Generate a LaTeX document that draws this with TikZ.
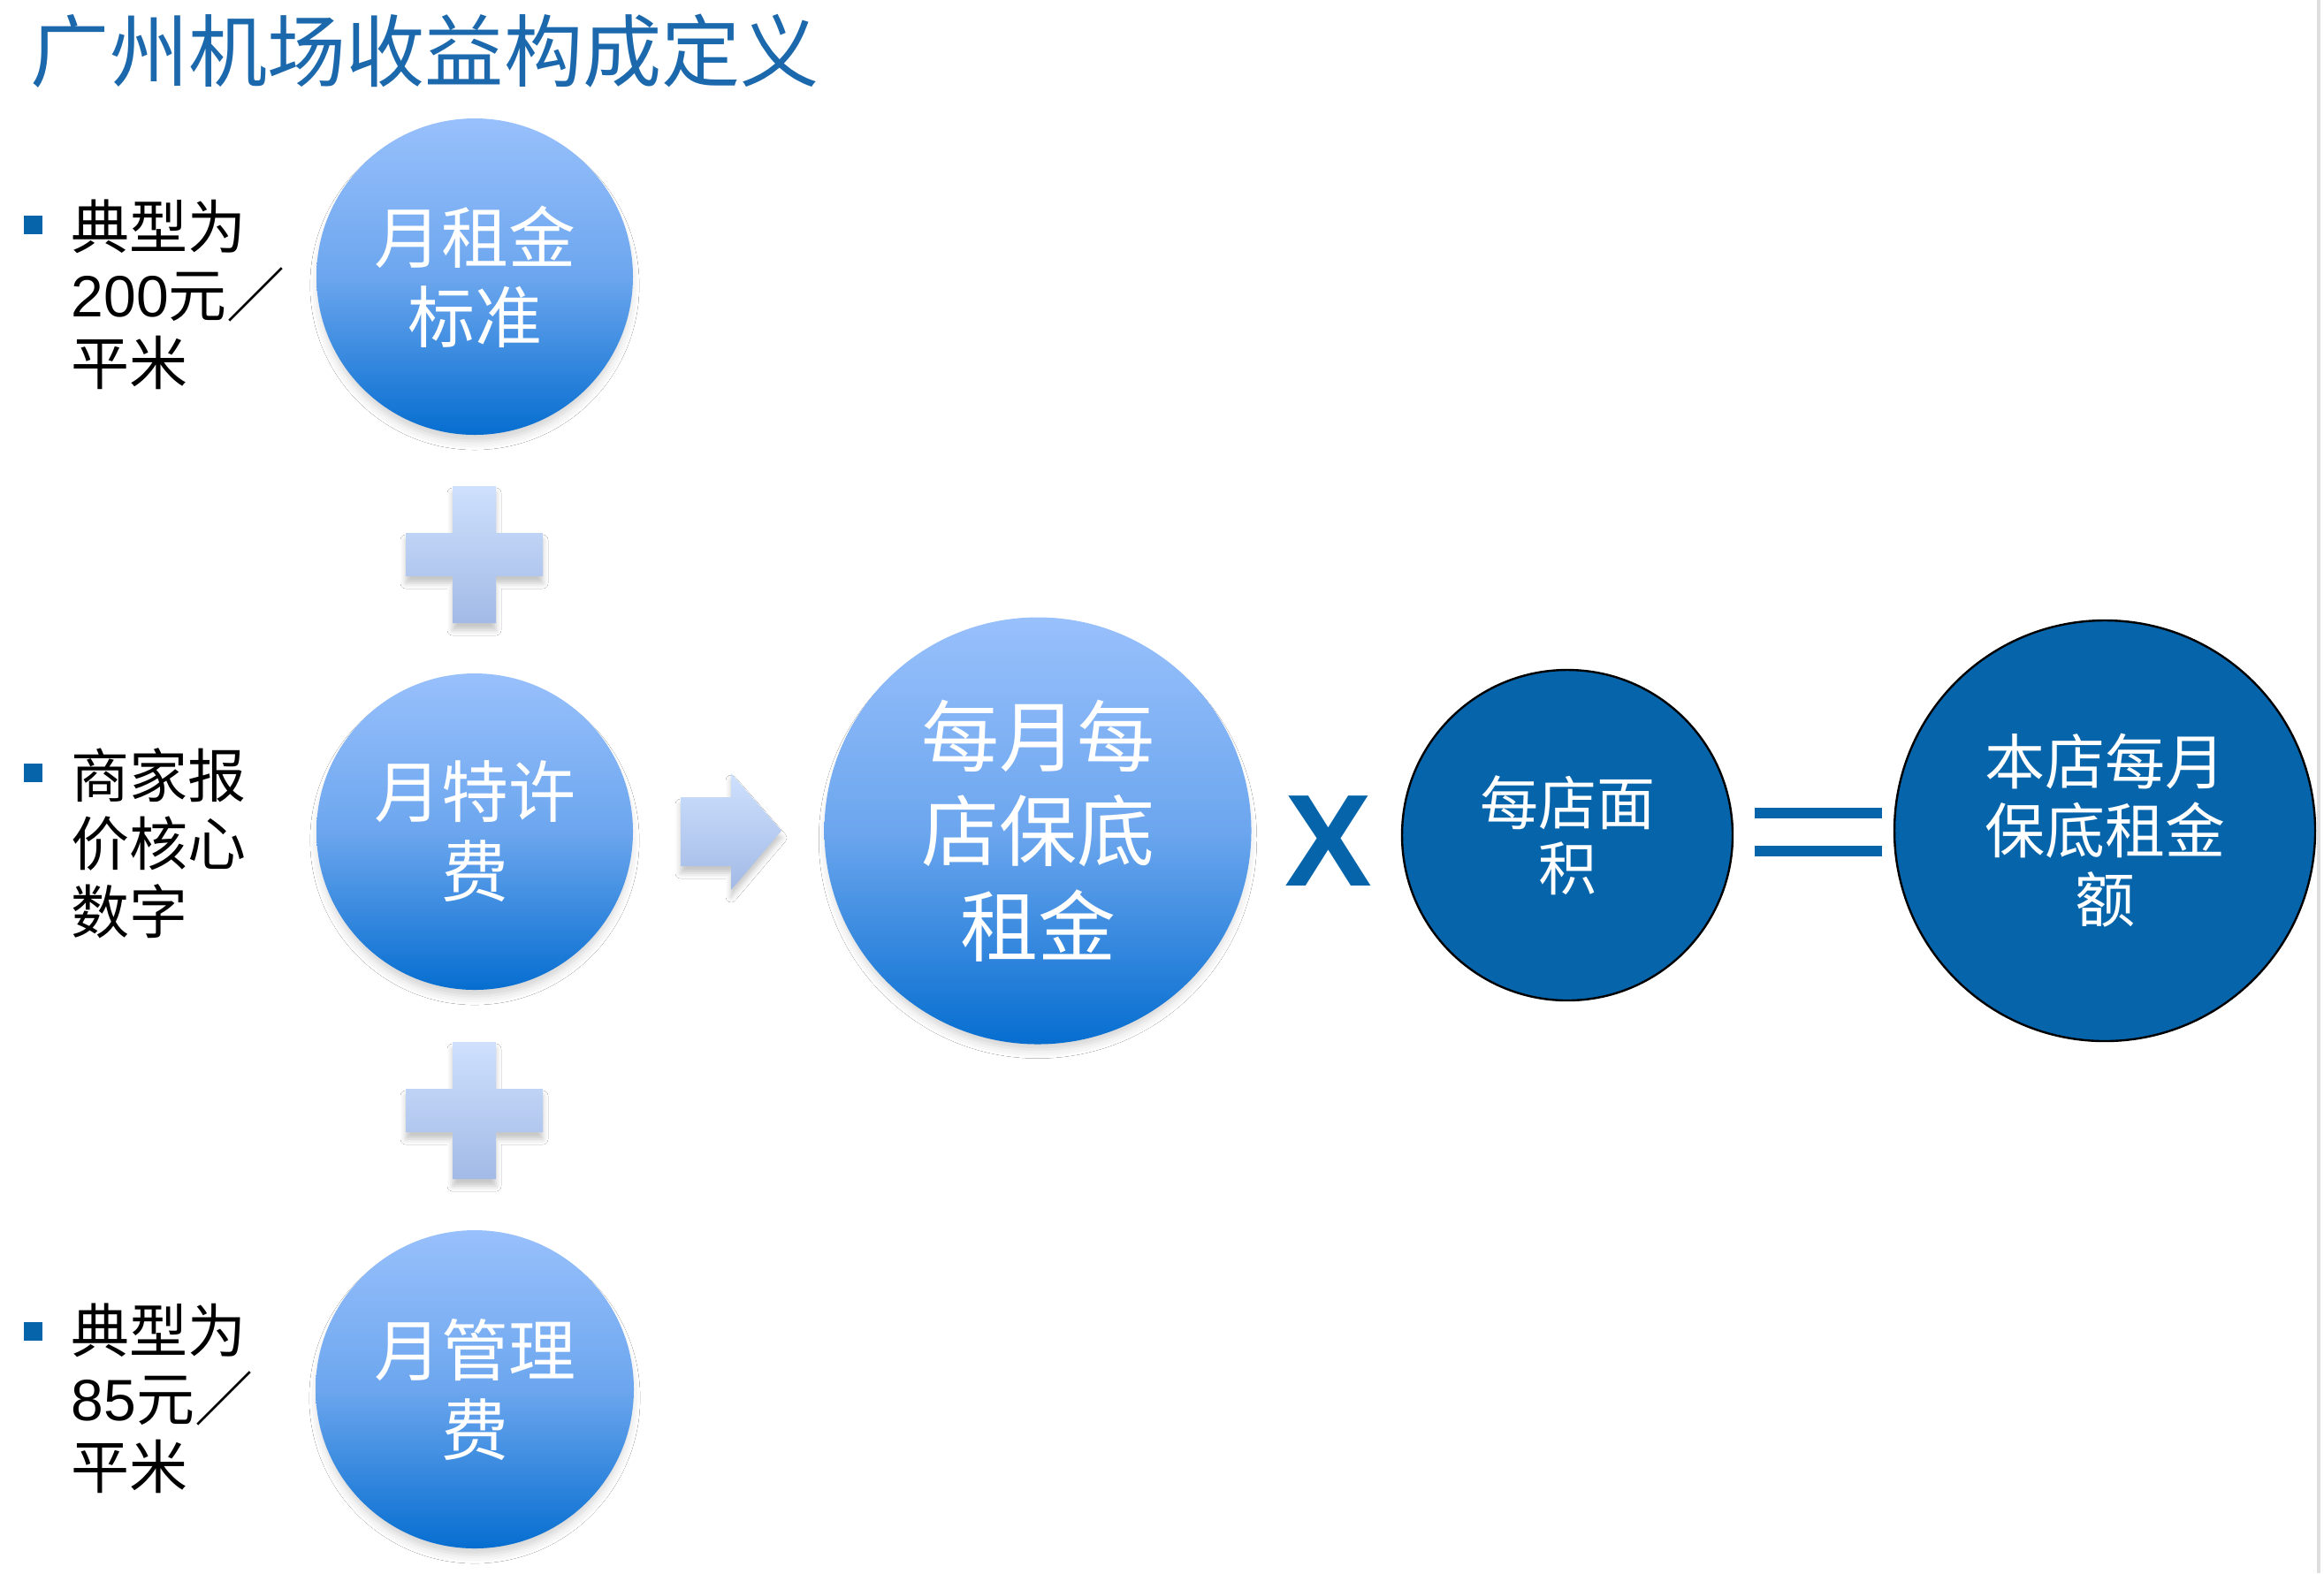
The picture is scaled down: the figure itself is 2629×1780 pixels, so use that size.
\documentclass[tikz,border=0pt]{standalone}
\usepackage{fontspec}
\setmainfont{Noto Sans CJK SC}
\newfontfamily\latinfont{Liberation Sans}
\usetikzlibrary{shadows.blur}
\definecolor{titleblue}{RGB}{28,104,172}
\definecolor{darkblue}{RGB}{6,100,170}
\definecolor{lighttop}{RGB}{152,192,252}
\definecolor{lightmid}{RGB}{108,166,238}
\definecolor{lightbot}{RGB}{6,110,208}
\definecolor{optop}{RGB}{206,224,253}
\definecolor{opbot}{RGB}{162,186,230}
\definecolor{edgegray}{RGB}{222,222,222}
\begin{document}
\begin{tikzpicture}[x=0.25pt,y=-0.25pt,
  lightcirc/.style={circle, inner sep=0pt, top color=lighttop, bottom color=lightbot, middle color=lightmid, text=white, align=center,
    blur shadow={shadow xshift=0pt, shadow yshift=-2.5pt, shadow opacity=18, shadow blur radius=2.5pt, shadow scale=0.985}},
  darkcirc/.style={circle, inner sep=0pt, fill=darkblue, draw=black, line width=0.6pt, text=white, align=center},
  opshape/.style={top color=optop, bottom color=opbot, draw=none,
    blur shadow={shadow xshift=0pt, shadow yshift=-2pt, shadow opacity=22, shadow blur radius=1.5pt}},
  sidetext/.style={anchor=west, align=left, inner sep=0pt, text=black, font=\fontsize{16.5pt}{19.25pt}\selectfont},
  bulletsq/.style={fill=darkblue, minimum size=5.25pt, inner sep=0pt},
  fsmall/.style={font=\fontsize{19pt}{22.5pt}\selectfont},
  fbig/.style={font=\fontsize{22pt}{26.8pt}\selectfont},
  fdark/.style={font=\fontsize{16.5pt}{18.5pt}\selectfont}
]
\useasboundingbox (0,0) rectangle (2629,1780);
\fill[white] (0,0) rectangle (2629,1780);
\draw[edgegray, line width=0.8pt] (2623,0) -- (2623,1780);

% title
\node[anchor=west, inner sep=0pt, text=titleblue, font=\fontsize{22.3pt}{26pt}\selectfont] (title) at (34,58) {广州机场收益构成定义};

% left circles
\node[lightcirc, fsmall, minimum size=89.5pt] (rent) at (537,313) {月租金\\标准};
\node[lightcirc, fsmall, minimum size=89.5pt] (franchise) at (537,941) {月特许\\费};
\node[lightcirc, fsmall, minimum size=90pt] (mgmt) at (537,1572) {月管理\\费};

% plus signs
\path[opshape] (512,550) -- (561,550) -- (561,603) -- (614,603) -- (614,652) -- (561,652) -- (561,705) -- (512,705) -- (512,652) -- (459,652) -- (459,603) -- (512,603) -- cycle;
\begin{scope}[shift={(0,629)}]
\path[opshape] (512,550) -- (561,550) -- (561,603) -- (614,603) -- (614,652) -- (561,652) -- (561,705) -- (512,705) -- (512,652) -- (459,652) -- (459,603) -- (512,603) -- cycle;
\end{scope}

% arrow
\path[opshape] (770,902) -- (827,902) -- (827,875) -- (884,940) -- (827,1007) -- (827,980) -- (770,980) -- cycle;

% centre circle
\node[lightcirc, fbig, minimum size=120.75pt] (perstore) at (1174,940) {每月每\\店保底\\租金};

% times
\node[inner sep=0pt, text=darkblue, font=\latinfont\bfseries\fontsize{37pt}{37pt}\selectfont] (times) at (1503,952) {X};

% area circle
\node[darkcirc, fdark, minimum size=93.5pt] (area) at (1773,945) {每店面\\积};

% equals
\fill[darkblue] (1985,914) rectangle (2129,926);
\fill[darkblue] (1985,957) rectangle (2129,969);

% result circle
\node[darkcirc, font=\fontsize{17pt}{19.5pt}\selectfont, minimum size=119pt] (total) at (2381,940) {本店每月\\保底租金\\额};

% side notes
\node[bulletsq] (b1) at (37,254) {};
\node[sidetext] (t1) at (80,333) {典型为\\{\latinfont 200}元／\\平米};
\node[bulletsq] (b2) at (37,874) {};
\node[sidetext] (t2) at (80,954) {商家报\\价核心\\数字};
\node[bulletsq] (b3) at (37,1506) {};
\node[sidetext] (t3) at (80,1582) {典型为\\{\latinfont 85}元／\\平米};
\end{tikzpicture}
\end{document}
